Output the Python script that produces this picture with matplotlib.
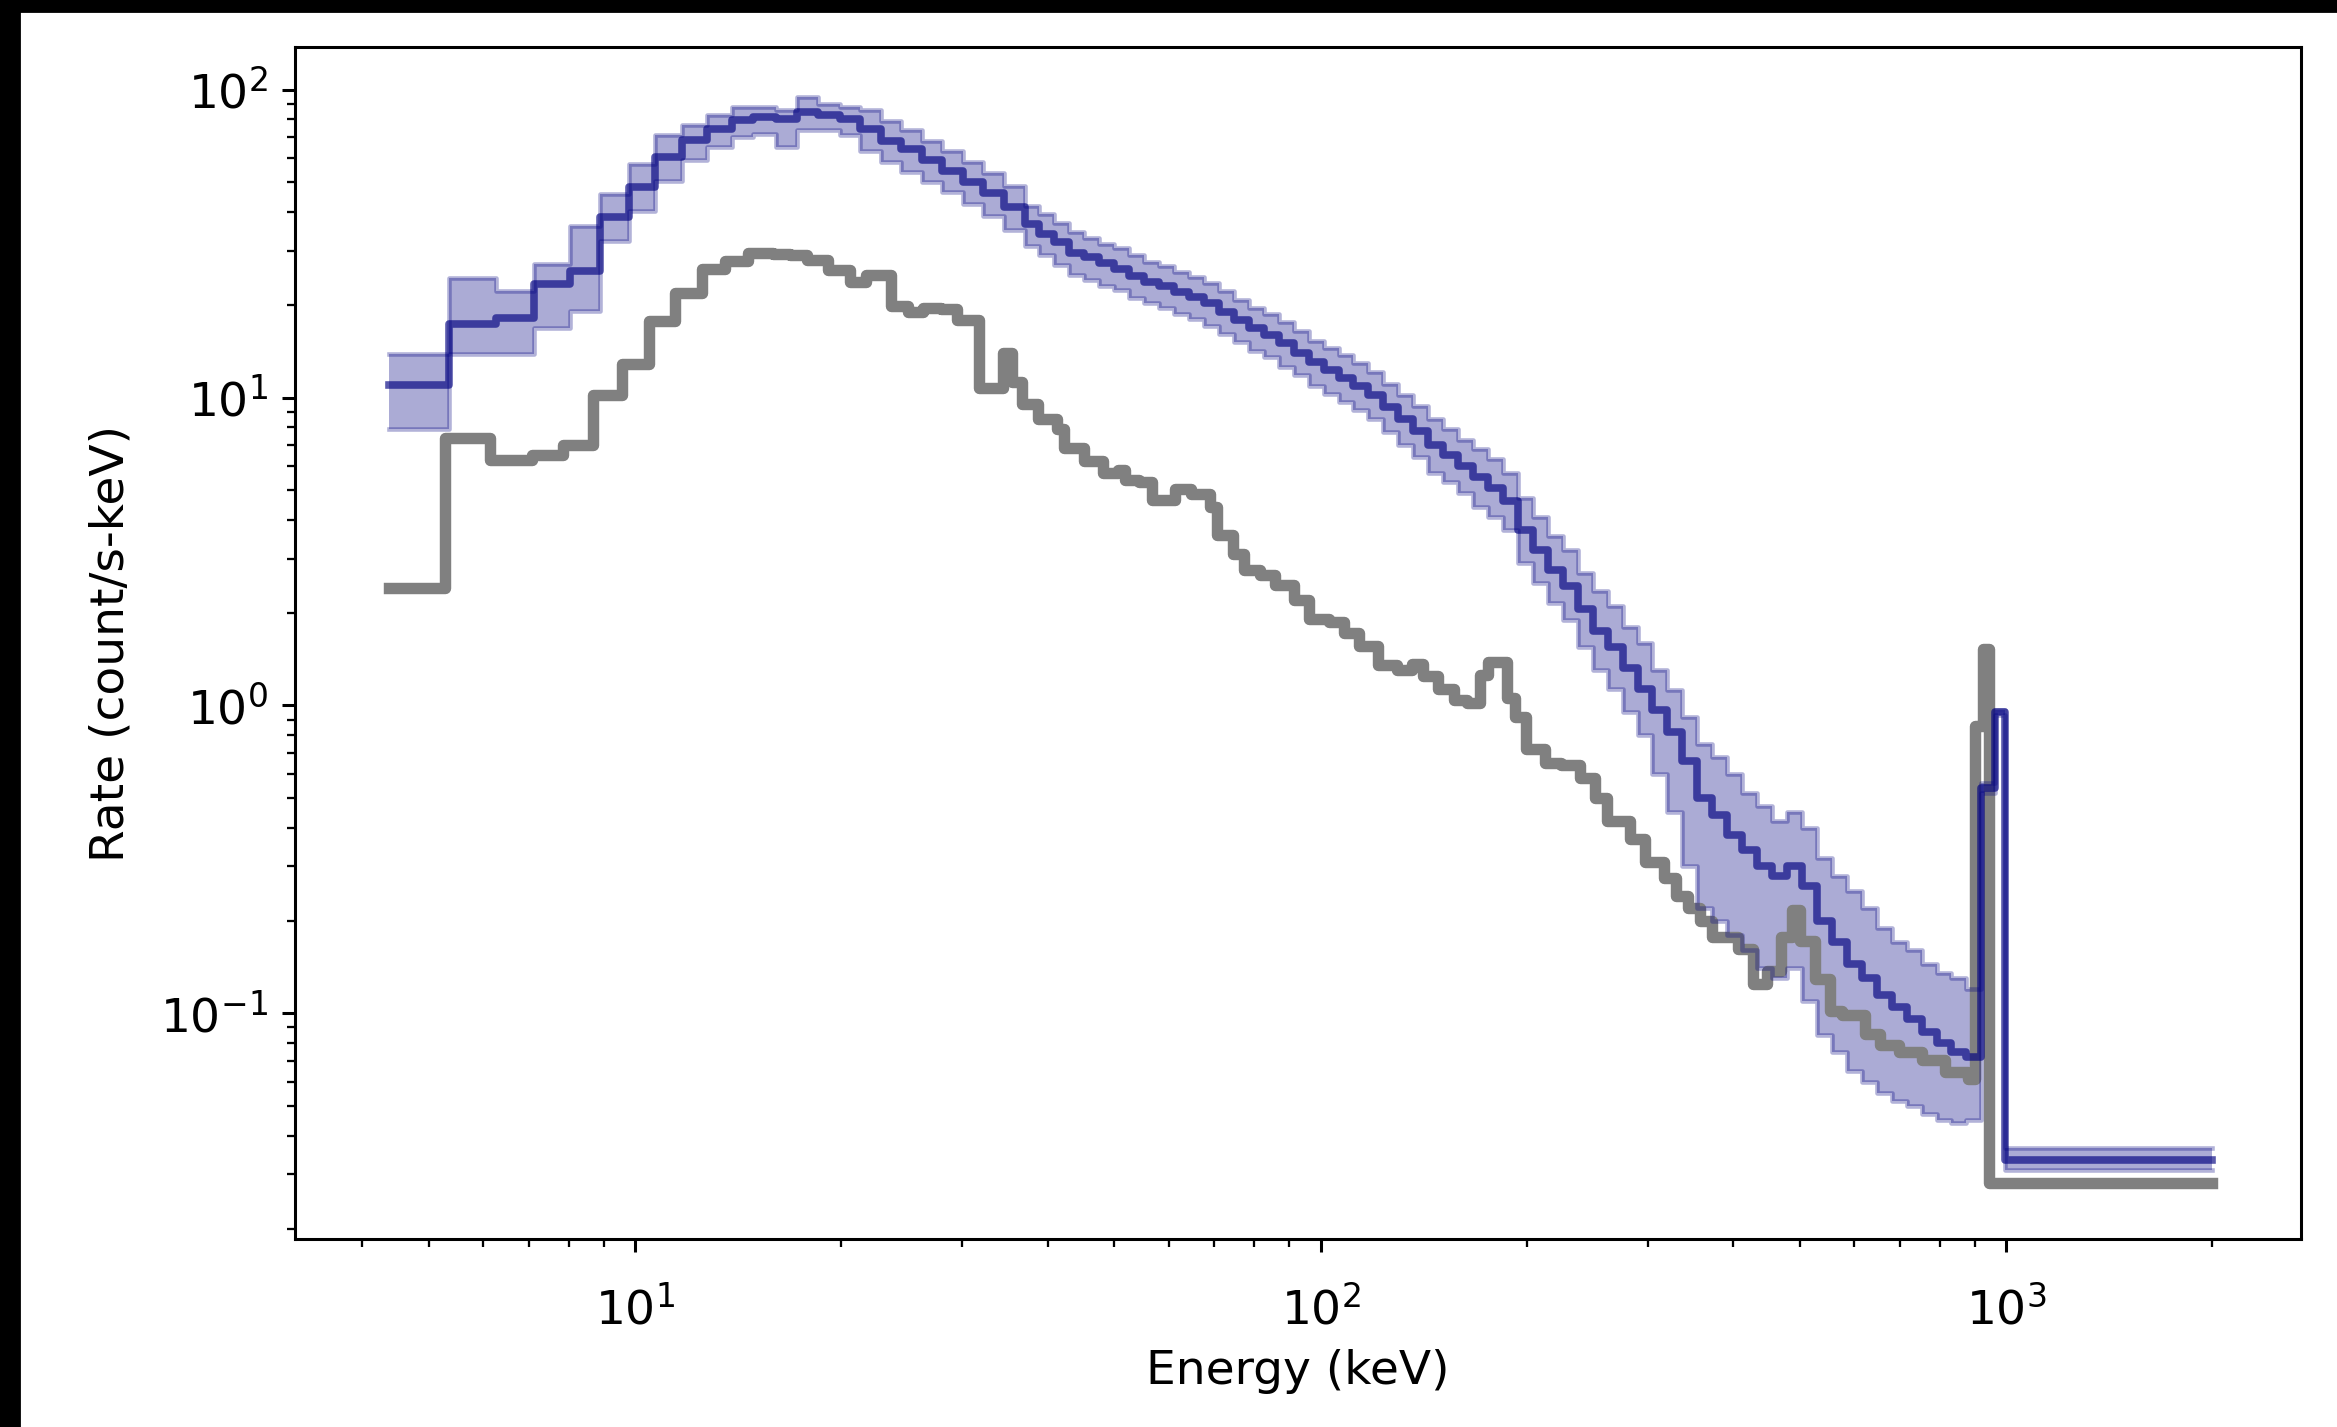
import numpy as np
import matplotlib
matplotlib.use("Agg")
import matplotlib.pyplot as plt
from matplotlib.patches import Rectangle

# channel edges (keV) of the source spectrum and its rate envelope (count/s-keV)
src_edges = [4.37, 5.36, 6.27, 7.13, 8.04, 8.89, 9.81, 10.70, 11.70, 12.72, 13.84,
             14.88, 16.06, 17.25, 18.51, 19.91, 21.29, 22.81, 24.44, 26.19, 28.06,
             30.07, 32.22, 34.52, 36.99, 38.89, 40.90, 43.00, 45.22, 47.55, 50.00,
             52.57, 55.28, 58.13, 61.12, 64.27, 67.58, 71.06, 74.72, 78.57, 82.62,
             86.87, 91.35, 96.05, 101.0, 106.2, 111.67, 117.42, 123.47, 129.83,
             136.51, 143.54, 150.94, 158.71, 166.88, 175.48, 184.51, 194.02, 204.01,
             214.52, 225.57, 237.18, 249.40, 262.24, 275.75, 289.95, 304.88, 320.58,
             337.09, 354.45, 372.71, 391.90, 412.09, 433.31, 455.62, 479.09, 503.76,
             529.70, 556.98, 585.67, 615.83, 647.55, 680.89, 715.96, 752.83, 791.60,
             832.37, 875.23, 920.31, 963.0, 995.0, 2000.0]

src_mid = [11.0, 17.3, 18.1, 23.3, 25.8, 38.5, 48.2, 60.3, 68.4, 74.6, 79.8, 81.5,
           80.4, 84.5, 82.4, 80.0,
           74.5, 68.0, 64.0, 59.0, 54.5, 50.0, 46.0, 41.5,
           36.5, 34.0, 32.0, 29.5, 28.5, 27.3, 26.2, 24.8, 23.8, 23.0, 22.0, 21.2,
           20.2, 19.0, 17.8, 16.8, 16.0, 15.0, 14.0, 13.0, 12.3, 11.6, 10.9, 10.2,
           9.3, 8.5, 7.8, 7.0, 6.5, 6.0, 5.5, 5.1, 4.6, 3.7, 3.2, 2.75, 2.45, 2.05,
           1.75, 1.55, 1.32, 1.13, 0.97, 0.82, 0.66, 0.50, 0.44, 0.38, 0.34, 0.30,
           0.28, 0.30, 0.26, 0.20, 0.17, 0.145, 0.13, 0.115, 0.105, 0.096, 0.087,
           0.080, 0.075, 0.072,
           0.54, 0.95, 0.0333]

src_lo = [7.9, 13.8, 13.8, 16.8, 19.1, 32.3, 40.4, 50.6, 58.9, 65.0, 70.2, 71.9,
          65.0, 74.0, 74.0, 71.0,
          63, 58, 54, 50, 46.5, 42.5, 39, 35,
          31, 29, 27, 25, 24, 23, 22.3, 21, 20.2, 19.5, 18.7, 18.0,
          17.1, 16.1, 15.1, 14.2, 13.5, 12.6, 11.8, 10.9, 10.3, 9.7, 9.1, 8.5,
          7.7, 7.0, 6.4, 5.7, 5.3, 4.9, 4.4, 4.1, 3.7, 2.9, 2.5, 2.15, 1.9, 1.55,
          1.3, 1.13, 0.95, 0.8, 0.6, 0.45, 0.3, 0.22, 0.2, 0.18, 0.16, 0.14,
          0.13, 0.14, 0.11, 0.085, 0.075, 0.065, 0.06, 0.055, 0.052, 0.05, 0.047,
          0.045, 0.044, 0.045,
          0.52, 0.93, 0.031]

src_hi = [13.8, 24.5, 22.1, 27.1, 36.1, 45.8, 57.4, 71.0, 76.5, 82.5, 87.9, 87.9,
          86.0, 94.7, 90.0, 88.0,
          86, 79, 74, 68, 63, 58, 53.5, 48.5,
          42, 39.5, 37, 34.5, 33, 31.5, 30.5, 29, 27.5, 26.7, 25.6, 24.6,
          23.5, 22.1, 20.7, 19.6, 18.7, 17.6, 16.4, 15.3, 14.5, 13.7, 12.9, 12.1,
          11.1, 10.2, 9.4, 8.5, 7.9, 7.3, 6.8, 6.3, 5.7, 4.7, 4.1, 3.55, 3.2, 2.7,
          2.35, 2.1, 1.8, 1.6, 1.3, 1.12, 0.92, 0.75, 0.68, 0.6, 0.52, 0.47,
          0.42, 0.45, 0.40, 0.32, 0.28, 0.25, 0.22, 0.19, 0.17, 0.16, 0.145,
          0.135, 0.13, 0.12,
          0.56, 0.97, 0.0365]

# background spectrum
bkg_edges = [4.37, 5.28, 6.14, 7.07, 7.86, 8.69, 9.56, 10.46, 11.44, 12.51, 13.53,
             14.63, 15.91, 16.85, 17.80, 19.14, 20.59, 21.7, 23.6, 25.0, 26.3, 27.9,
             29.5, 31.7, 34.4, 35.5, 36.7, 38.7, 41.2, 42.3, 45.1, 48.1, 50.6, 51.9,
             54.3, 56.8, 61.4, 64.6, 68.9, 70.7, 74.5, 77.4, 81.5, 85.8, 91.4, 96.3,
             102.7, 108.1, 113.8, 121.3, 129.4, 135.8, 141.0, 148.5, 156.4, 163.5,
             171.0, 175.6, 187.3, 192.0, 199.6, 212.8, 224.0, 239.0, 251.6, 261.5,
             282.5, 297.4, 317.1, 329.6, 344, 358, 372, 407, 428, 448, 469, 487, 500,
             526, 554, 576, 622, 655, 698, 754, 815, 880, 901, 926, 944, 2000]

bkg_rate = [2.40, 7.36, 6.27, 6.5, 7.0, 10.2, 12.8, 17.7, 21.9, 26.1, 27.7, 29.5,
            29.3, 29.0, 28.0, 26.0, 23.8, 25.0, 19.8, 19.0, 19.5, 19.4, 17.9, 10.7,
            14.0, 11.2, 9.5, 8.5, 7.9, 6.85, 6.2, 5.69, 5.8, 5.4, 5.3, 4.64, 5.06,
            4.85, 4.4, 3.58, 3.1, 2.75, 2.65, 2.47, 2.2, 1.91, 1.87, 1.72, 1.56,
            1.35, 1.30, 1.36, 1.25, 1.13, 1.04, 1.02, 1.26, 1.38, 1.06, 0.92, 0.72,
            0.65, 0.64, 0.58, 0.50, 0.42, 0.367, 0.309, 0.275, 0.24, 0.22, 0.199,
            0.177, 0.162, 0.125, 0.137, 0.177, 0.217, 0.172, 0.129, 0.102, 0.099,
            0.086, 0.079, 0.0747, 0.0705, 0.0647, 0.061, 0.86, 1.53, 0.0281]


def stepped(vals):
    # repeat the last bin so the step reaches the final edge
    return list(vals) + [vals[-1]]


plt.rcParams['font.size'] = 12.4

W, H, DPI = 2337, 1427, 274
fig = plt.figure(figsize=(W / DPI, H / DPI), dpi=DPI)
ax = fig.add_axes([295 / W, 1 - 1239 / H, (2301 - 295) / W, (1239 - 47) / H])

ax.step(bkg_edges, stepped(bkg_rate), where='post', color='gray', lw=3)

ax.fill_between(src_edges, stepped(src_lo), stepped(src_hi), step='post',
                color='navy', alpha=0.33, lw=0)
ax.step(src_edges, stepped(src_lo), where='post', color='navy', alpha=0.3, lw=1.2)
ax.step(src_edges, stepped(src_hi), where='post', color='navy', alpha=0.3, lw=1.2)
ax.step(src_edges, stepped(src_mid), where='post', color='navy', alpha=0.65, lw=2)

ax.set_xscale('log')
ax.set_yscale('log')
ax.set_xlim(3.19, 2693)
ax.set_ylim(0.0185, 137.5)
ax.tick_params(axis='x', which='major', pad=9)
ax.set_xlabel('Energy (keV)')
ax.set_ylabel('Rate (count/s-keV)', labelpad=7)

# dark screen edge along the left and top
fig.patches.append(Rectangle((0, 0), 19 / W, 1, transform=fig.transFigure,
                             color='black', zorder=10))
fig.patches.append(Rectangle((0, 1 - 11 / H), 1, 11 / H, transform=fig.transFigure,
                             color='black', zorder=10))

fig.savefig('out.png', dpi=DPI)
